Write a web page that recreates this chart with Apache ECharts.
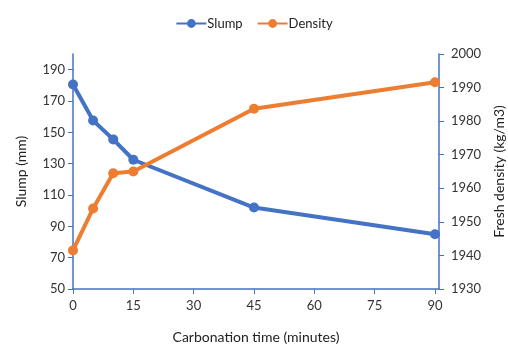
<!DOCTYPE html>
<html>
<head>
<meta charset="utf-8">
<script src="https://cdn.jsdelivr.net/npm/echarts@6/dist/echarts.min.js"></script>
<style>
  html, body { margin: 0; padding: 0; background: #fff; }
  #chart { width: 508px; height: 345px; }
</style>
</head>
<body>
<div id="chart"></div>
<script>
// Carbonation time in minutes
const times = [0, 5, 10, 15, 45, 90];
// Slump (mm)
const slump = [180.5, 157.5, 145.5, 132.5, 102, 85];
// Fresh density (kg/m3)
const density = [1941.5, 1954, 1964.5, 1965, 1983.7, 1991.6];

const xTicks = [0, 15, 30, 45, 60, 75, 90];
const slumpTicks = [50, 70, 90, 110, 130, 150, 170, 190];
const densityTicks = [1930, 1940, 1950, 1960, 1970, 1980, 1990, 2000];

const BLUE = '#4472C4';
const ORANGE = '#ED7D31';
const AXIS = '#4472C4';
const FONT = 'Lato';

const pairs = (xs, ys) => xs.map((x, i) => [x, ys[i]]);

const chart = echarts.init(document.getElementById('chart'), null, { renderer: 'canvas' });

const labelStyle = { color: '#333', fontFamily: FONT, fontSize: 13 };
const nameStyle = { color: '#222', fontFamily: FONT, fontSize: 14 };

chart.setOption({
  animation: false,
  backgroundColor: '#fff',
  legend: {
    top: 12,
    left: 'center',
    itemWidth: 30,
    itemHeight: 11,
    itemGap: 14,
    textStyle: { color: '#222', fontFamily: FONT, fontSize: 13, padding: [0, 0, 0, -4] },
    data: ['Slump', 'Density']
  },
  grid: { left: 73, right: 69, top: 54, bottom: 56, containLabel: false, outerBoundsMode: 'none' },
  xAxis: {
    type: 'value',
    min: 0,
    max: 91,
    name: 'Carbonation time (minutes)',
    nameLocation: 'middle',
    nameGap: 41,
    nameTextStyle: nameStyle,
    axisLine: { show: true, lineStyle: { color: AXIS, width: 1.5 } },
    axisTick: { show: true, length: 5, customValues: xTicks, lineStyle: { color: AXIS } },
    axisLabel: { customValues: xTicks, margin: 10, ...labelStyle },
    splitLine: { show: false }
  },
  yAxis: [
    {
      type: 'value',
      min: 50,
      max: 200,
      position: 'left',
      name: 'Slump (mm)',
      nameLocation: 'middle',
      nameGap: 45,
      nameTextStyle: nameStyle,
      axisLine: { show: true, lineStyle: { color: AXIS, width: 1.5 } },
      axisTick: { show: true, length: 5, customValues: slumpTicks, lineStyle: { color: AXIS } },
      axisLabel: { customValues: slumpTicks, margin: 8, ...labelStyle },
      splitLine: { show: false }
    },
    {
      type: 'value',
      min: 1930,
      max: 2000,
      interval: 10,
      position: 'right',
      name: 'Fresh density (kg/m3)',
      nameLocation: 'middle',
      nameGap: 50,
      nameRotate: 90,
      nameTextStyle: nameStyle,
      axisLine: { show: true, lineStyle: { color: AXIS, width: 1.5 } },
      axisTick: { show: true, length: 5, customValues: densityTicks, lineStyle: { color: AXIS } },
      axisLabel: { customValues: densityTicks, margin: 12, formatter: v => String(v), ...labelStyle },
      splitLine: { show: false }
    }
  ],
  series: [
    {
      name: 'Slump',
      type: 'line',
      yAxisIndex: 0,
      data: pairs(times, slump),
      symbol: 'circle',
      symbolSize: 10,
      lineStyle: { color: BLUE, width: 4 },
      itemStyle: { color: BLUE }
    },
    {
      name: 'Density',
      type: 'line',
      yAxisIndex: 1,
      data: pairs(times, density),
      symbol: 'circle',
      symbolSize: 10,
      lineStyle: { color: ORANGE, width: 4 },
      itemStyle: { color: ORANGE }
    }
  ]
});
</script>
</body>
</html>
